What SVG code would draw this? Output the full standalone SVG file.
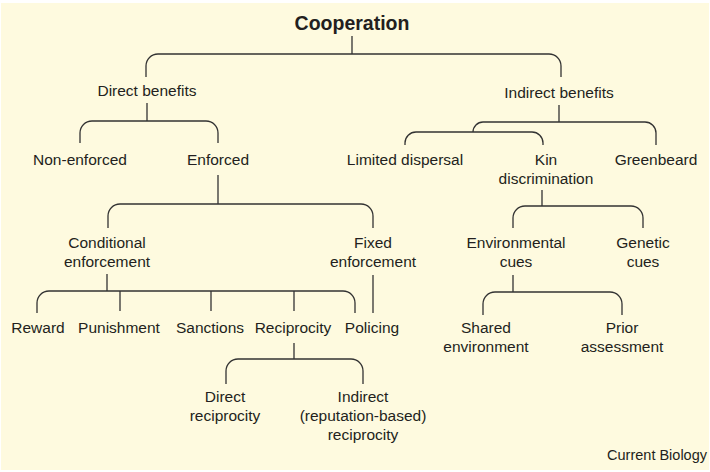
<svg xmlns="http://www.w3.org/2000/svg" width="710" height="472" viewBox="0 0 710 472">
<style>
text{font-family:"Liberation Sans",Arial,sans-serif;font-size:15.5px;fill:#231f20;text-anchor:middle}
.t{font-size:19.5px;font-weight:bold}
.cb{font-size:14.5px;text-anchor:end}
.c path{fill:none;stroke:#333;stroke-width:1.3}
</style>
<rect x="0" y="0" width="710" height="472" fill="#fff"/>
<rect x="1" y="3" width="708" height="467" fill="#fefadf"/>
<g class="c" id="connectors">
<path d="M352 36V54M146 77V66a12 12 0 0 1 12-12H549a12 12 0 0 1 12 12V77"/>
<path d="M147 103V121M80 143V133a12 12 0 0 1 12-12H206a12 12 0 0 1 12 12V143"/>
<path d="M218 175V204M108 228V216a12 12 0 0 1 12-12H361a12 12 0 0 1 12 12V228"/>
<path d="M107 274V291M37 313V303a12 12 0 0 1 12-12H343a12 12 0 0 1 12 12V313M120 291V311M211 291V311M294 291V311"/>
<path d="M373 275V313"/>
<path d="M294 343V359M226 384V371a12 12 0 0 1 12-12H351a12 12 0 0 1 12 12V384"/>
<path d="M559 105V122M473 132a10 10 0 0 1 10-10H645a11 11 0 0 1 11 11V145"/>
<path d="M405 145V143a11 11 0 0 1 11-11H532a11 11 0 0 1 11 11V145"/>
<path d="M542 190V206M513 228V218a12 12 0 0 1 12-12H631a12 12 0 0 1 12 12V228"/>
<path d="M513 275V292M483 315V304a12 12 0 0 1 12-12H610a12 12 0 0 1 12 12V315"/>
</g>
<g id="cooperation"><text class="t" x="352" y="30">Cooperation</text></g>
<g id="direct-benefits"><text x="147" y="96">Direct benefits</text></g>
<g id="indirect-benefits"><text x="559" y="98">Indirect benefits</text></g>
<g id="non-enforced"><text x="80" y="165">Non-enforced</text></g>
<g id="enforced"><text x="218" y="165">Enforced</text></g>
<g id="conditional-enforcement"><text x="107" y="248">Conditional</text><text x="107" y="267">enforcement</text></g>
<g id="fixed-enforcement"><text x="373" y="248">Fixed</text><text x="373" y="267">enforcement</text></g>
<g id="reward"><text x="38" y="333">Reward</text></g>
<g id="punishment"><text x="119" y="333">Punishment</text></g>
<g id="sanctions"><text x="210" y="333">Sanctions</text></g>
<g id="reciprocity"><text x="293" y="333">Reciprocity</text></g>
<g id="policing"><text x="372" y="333">Policing</text></g>
<g id="direct-reciprocity"><text x="225" y="402">Direct</text><text x="225" y="421">reciprocity</text></g>
<g id="indirect-reciprocity"><text x="363" y="402">Indirect</text><text x="363" y="421">(reputation-based)</text><text x="363" y="440">reciprocity</text></g>
<g id="limited-dispersal"><text x="405" y="165">Limited dispersal</text></g>
<g id="kin-discrimination"><text x="546" y="165">Kin</text><text x="546" y="184">discrimination</text></g>
<g id="greenbeard"><text x="656" y="165">Greenbeard</text></g>
<g id="environmental-cues"><text x="516" y="248">Environmental</text><text x="516" y="267">cues</text></g>
<g id="genetic-cues"><text x="643" y="248">Genetic</text><text x="643" y="267">cues</text></g>
<g id="shared-environment"><text x="486" y="333">Shared</text><text x="486" y="352">environment</text></g>
<g id="prior-assessment"><text x="622" y="333">Prior</text><text x="622" y="352">assessment</text></g>
<text class="cb" x="707" y="460">Current Biology</text>
</svg>
